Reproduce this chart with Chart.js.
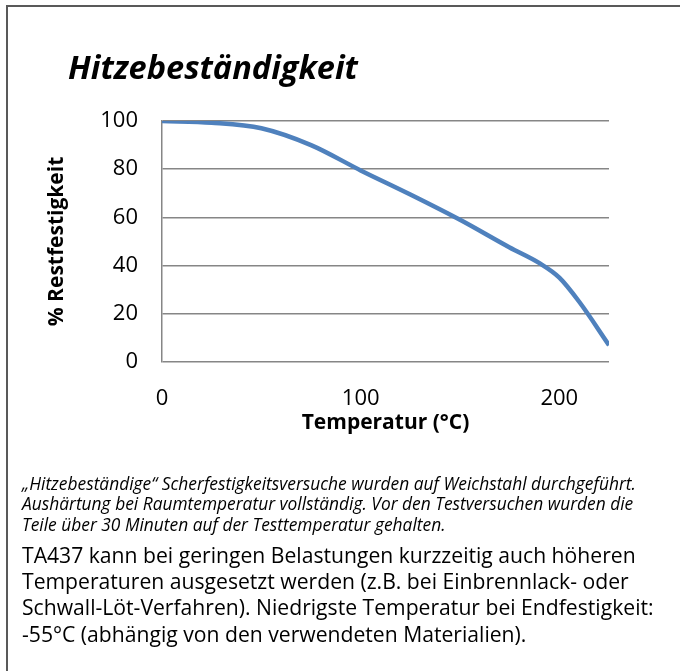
<!DOCTYPE html>
<html>
<head>
<meta charset="utf-8">
<script src="https://cdn.jsdelivr.net/npm/chart.js@4.4.1/dist/chart.umd.min.js"></script>
<style>
  html, body { margin: 0; padding: 0; background: #fff; }
  body { width: 680px; height: 671px; position: relative; overflow: hidden; color: #000; font-family: "Open Sans", sans-serif; }
  #frame { position: absolute; left: 6px; top: 5px; width: 720px; height: 720px; border-top: 2px solid #595959; border-left: 2px solid #595959; }
  #chartBox { position: absolute; left: 0; top: 0; width: 680px; height: 671px; }
  .line { position: absolute; white-space: nowrap; }
</style>
</head>
<body>
<div id="frame"></div>
<div id="chartBox"><canvas id="heatChart"></canvas></div>
<script>
// values
const temperatures = [0, 25, 50, 75, 100, 125, 150, 175, 190, 200, 210, 225];
const strengthPercent = [100, 99.3, 97, 90, 79.5, 69.5, 59, 47.5, 41, 35, 25, 7];
const xTickValues = [0, 100, 200];
const yTickValues = [0, 20, 40, 60, 80, 100];

const chartTitle = "Hitzebeständigkeit";
const xAxisTitle = "Temperatur (°C)";
const yAxisTitle = "% Restfestigkeit";

const noteLines = [
  "„Hitzebeständige“ Scherfestigkeitsversuche wurden auf Weichstahl durchgeführt.",
  "Aushärtung bei Raumtemperatur vollständig. Vor den Testversuchen wurden die",
  "Teile über 30 Minuten auf der Testtemperatur gehalten.",
];
const bodyLines = [
  "TA437 kann bei geringen Belastungen kurzzeitig auch höheren",
  "Temperaturen ausgesetzt werden (z.B. bei Einbrennlack- oder",
  "Schwall-Löt-Verfahren). Niedrigste Temperatur bei Endfestigkeit:",
  "-55°C (abhängig von den verwendeten Materialien).",
];

const FONT = '"Open Sans", sans-serif';

placeText([chartTitle], "italic bold", 290, 68, [80]);
placeText(noteLines, "italic", 614, 22, [490, 510, 531]);
placeText(bodyLines, "normal", 632, 22, [563, 589, 615, 642]);
drawChart();

// size a block of lines so its widest line spans targetWidth, then set each on its baseline
function placeText(lines, style, targetWidth, left, baselines) {
  const ctx = document.createElement("canvas").getContext("2d");
  ctx.font = `${style} 100px ${FONT}`;
  const widest = Math.max(...lines.map((t) => ctx.measureText(t).width));
  const size = (100 * targetWidth) / widest;

  lines.forEach((text, i) => {
    const el = document.createElement("div");
    el.className = "line";
    el.textContent = text;
    el.style.font = `${style} ${size}px ${FONT}`;
    el.style.lineHeight = "0";
    el.style.left = left + "px";
    el.style.top = baselines[i] - 0.388 * size + "px";
    document.body.appendChild(el);
  });
}

function drawChart() {
  new Chart(document.getElementById("heatChart"), {
    type: "line",
    data: {
      datasets: [{
        data: temperatures.map((t, i) => ({ x: t, y: strengthPercent[i] })),
        borderColor: "#4f81bd",
        borderWidth: 4.5,
        pointRadius: 0,
        cubicInterpolationMode: "monotone",
        fill: false,
      }],
    },
    options: {
      responsive: true,
      maintainAspectRatio: false,
      animation: false,
      layout: { padding: { left: 0, top: 121, right: 71, bottom: 229 } },
      plugins: { legend: { display: false }, tooltip: { enabled: false } },
      scales: {
        x: {
          type: "linear",
          min: 0,
          max: 225,
          afterBuildTicks: (s) => { s.ticks = xTickValues.map((v) => ({ value: v })); },
          afterFit: (s) => { s.height = 80; },
          grid: { display: false, drawTicks: false },
          border: { display: false },
          ticks: { color: "#000", padding: 24, font: { family: FONT, size: 22 } },
          title: { display: true, text: xAxisTitle, color: "#000", padding: { top: 0, bottom: 6 }, font: { family: FONT, size: 21, weight: "bold" } },
        },
        y: {
          min: 0,
          max: 100,
          afterBuildTicks: (s) => { s.ticks = yTickValues.map((v) => ({ value: v })); },
          afterFit: (s) => { s.width = 162; },
          grid: { color: "#868686", lineWidth: 1.5, drawTicks: false },
          border: { display: true, color: "#868686", width: 1.5 },
          ticks: { color: "#000", padding: 24, font: { family: FONT, size: 22 } },
          title: { display: true, text: yAxisTitle, color: "#000", padding: { top: 44, bottom: 0 }, font: { family: FONT, size: 21, weight: "bold" } },
        },
      },
    },
  });
}
</script>
</body>
</html>
